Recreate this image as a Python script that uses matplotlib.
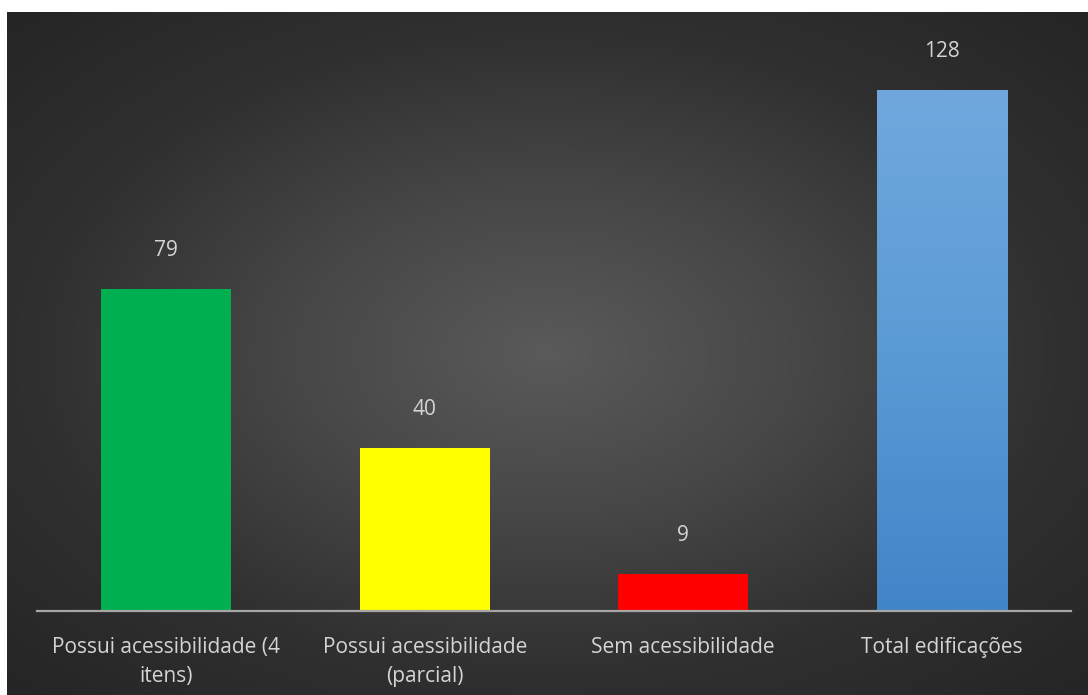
import numpy as np
import matplotlib
matplotlib.use('Agg')
import matplotlib.pyplot as plt
from matplotlib.colors import LinearSegmentedColormap

categorias = ['Possui acessibilidade (4\nitens)', 'Possui acessibilidade\n(parcial)',
              'Sem acessibilidade', 'Total edificações']
valores = [79, 40, 9, 128]
cores = ['#00b050', '#ffff00', '#ff0000', None]

W, H = 1088, 695
fig = plt.figure(figsize=(W / 100, H / 100), dpi=100, facecolor='white')

# fundo escuro com gradiente radial
bg = fig.add_axes([7 / W, 0, (W - 7) / W, (H - 12) / H])
bg.set_axis_off()
yy, xx = np.mgrid[-1:1:300j, -1:1:500j]
r = np.sqrt(xx ** 2 + yy ** 2) / np.sqrt(2)
cmap_bg = LinearSegmentedColormap.from_list('bg', ['#5a5a5a', '#474747', '#303030', '#252525'])
bg.imshow(r, cmap=cmap_bg, aspect='auto', extent=[0, 1, 0, 1], vmin=0, vmax=1)
bg.set_xlim(0, 1)
bg.set_ylim(0, 1)

# eixo principal
x0, x1 = 37, 1071
base, topo = 611, 20
ax = fig.add_axes([x0 / W, (H - base) / H, (x1 - x0) / W, (base - topo) / H])
ax.patch.set_alpha(0)
escala = (base - 90) / 128
ylim = (0, (base - topo) / escala)

x = np.arange(len(categorias))
barras = ax.bar(x, valores, width=0.503, color=[c if c else '#5b9bd5' for c in cores], zorder=3)

# gradiente azul na barra do total
grad = np.linspace(0, 1, 256).reshape(-1, 1)
cmap_azul = LinearSegmentedColormap.from_list('azul', ['#4185c9', '#5b9bd5', '#70a8dd'])
b = barras[3]
img = ax.imshow(grad, cmap=cmap_azul, aspect='auto', origin='lower', zorder=4,
                extent=[b.get_x(), b.get_x() + b.get_width(), 0, b.get_height()])
img.set_clip_path(b)
ax.set_xlim(-0.5, 3.5)
ax.set_ylim(*ylim)

for xi, v in zip(x, valores):
    ax.annotate(str(v), (xi, v), xytext=(0, 28), textcoords='offset points',
                ha='center', va='center', color='#d4d4d4', fontsize=15, family='Open Sans')

for s in ['top', 'right', 'left']:
    ax.spines[s].set_visible(False)
ax.spines['bottom'].set_color('#a6a6a6')
ax.spines['bottom'].set_linewidth(1.6)
ax.spines['bottom'].set_zorder(5)
ax.set_yticks([])
ax.set_xticks(x)
ax.set_xticklabels(categorias, color='#d4d4d4', fontsize=15, family='Open Sans',
                   linespacing=1.45)
ax.tick_params(axis='x', length=0, pad=19)

fig.savefig('out.png', dpi=100, facecolor='white')
